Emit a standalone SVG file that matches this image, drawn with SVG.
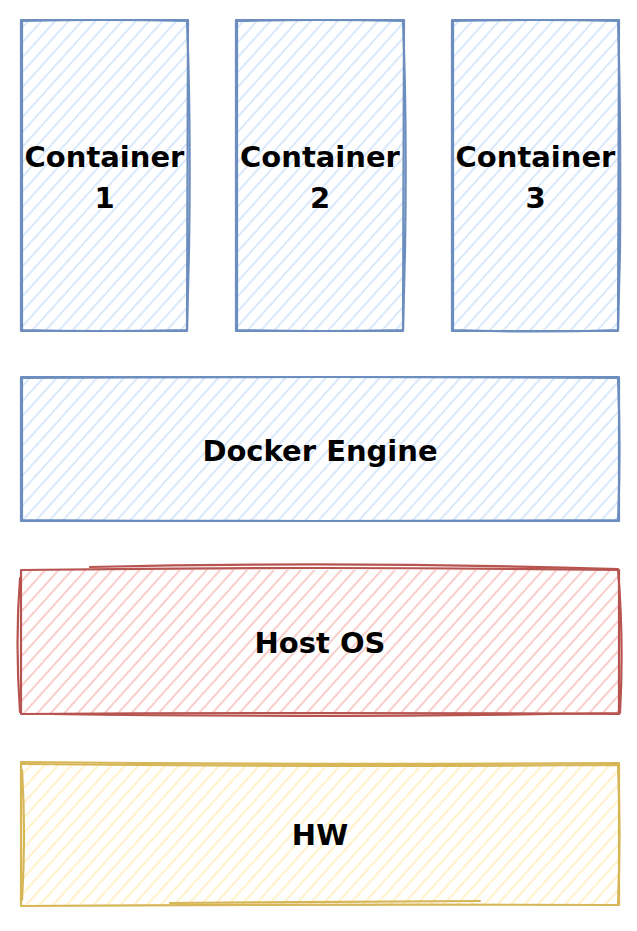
<svg xmlns="http://www.w3.org/2000/svg" width="637" height="931" viewBox="0 0 637 931">
  <defs>
    <pattern id="hBlue" patternUnits="userSpaceOnUse" width="10" height="10" patternTransform="rotate(42)">
      <line x1="5" y1="0" x2="5" y2="10" stroke="#dae8fc" stroke-width="2"/>
    </pattern>
    <pattern id="hRed" patternUnits="userSpaceOnUse" width="10" height="10" patternTransform="rotate(42)">
      <line x1="5" y1="0" x2="5" y2="10" stroke="#f8cecc" stroke-width="2"/>
    </pattern>
    <pattern id="hYellow" patternUnits="userSpaceOnUse" width="10" height="10" patternTransform="rotate(42)">
      <line x1="5" y1="0" x2="5" y2="10" stroke="#fff2cc" stroke-width="2.2"/>
    </pattern>
  </defs>
  <style>
    .b { fill: none; stroke-width: 2.2; stroke-linecap: round; stroke-linejoin: round; }
    .blue { stroke: #6c8ebf; }
    .red { stroke: #b85450; }
    .yellow { stroke: #d6b656; }
    .t { font-family: "DejaVu Sans", "Liberation Sans", sans-serif; font-weight: bold; font-size: 29px; fill: #000000; text-anchor: middle; }
  </style>
  <rect width="637" height="931" fill="#ffffff"/>

  <g id="container1">
    <rect x="21" y="20" width="167" height="311" fill="url(#hBlue)"/>
    <path class="b blue" d="M21 20 L188 20 L187 331 L21 331 Z"/>
    <path class="b blue" d="M22 21 Q105 19 187 21 Q191 120 189 250 L187 330 Q100 332 22 330 L22 21"/>
    <text class="t" x="104.5" y="167">Container</text>
    <text class="t" x="104.5" y="208">1</text>
  </g>

  <g id="container2">
    <rect x="236" y="20" width="168" height="311" fill="url(#hBlue)"/>
    <path class="b blue" d="M236 20 L404 20 L403 331 L236 331 Z"/>
    <path class="b blue" d="M237 21 Q320 19 403 21 Q407 120 405 250 L403 330 Q320 332 237 330 L237 21"/>
    <text class="t" x="320" y="167">Container</text>
    <text class="t" x="320" y="208">2</text>
  </g>

  <g id="container3">
    <rect x="452" y="20" width="167" height="311" fill="url(#hBlue)"/>
    <path class="b blue" d="M452 20 L619 20 L618 331 L452 331 Z"/>
    <path class="b blue" d="M453 21 Q535 19 618 21 Q621 120 620 250 L618 330 Q535 333 453 330 L453 21"/>
    <text class="t" x="535.5" y="167">Container</text>
    <text class="t" x="535.5" y="208">3</text>
  </g>

  <g id="docker-engine">
    <rect x="21" y="377" width="598" height="144" fill="url(#hBlue)"/>
    <path class="b blue" d="M21 377 L619 377 L619 521 L21 521 Z"/>
    <path class="b blue" d="M22 378 Q320 376 618 378 Q621 450 618 520 Q320 522 22 520 L22 378"/>
    <text class="t" x="320" y="461">Docker Engine</text>
  </g>

  <g id="host-os">
    <rect x="21" y="570" width="598" height="144" fill="url(#hRed)"/>
    <path class="b red" d="M21 570 Q320 566 619 570 L619 714 Q320 712 21 714 Z"/>
    <path class="b red" d="M90 567 Q350 561 618 569 Q624 642 620 713 Q320 718 50 714 M20 712 Q15 642 20 578"/>
    <text class="t" x="320" y="653">Host OS</text>
  </g>

  <g id="hw">
    <rect x="21" y="763" width="598" height="143" fill="url(#hYellow)"/>
    <path class="b yellow" d="M21 762 Q320 765 619 763 L619 905 Q320 904 21 906 Z"/>
    <path class="b yellow" d="M22 764 Q320 767 618 765 Q621 835 618 904 M170 903 L480 901 M22 770 Q26 835 22 900"/>
    <text class="t" x="320" y="845">HW</text>
  </g>

  <g id="connectors"></g>
</svg>
